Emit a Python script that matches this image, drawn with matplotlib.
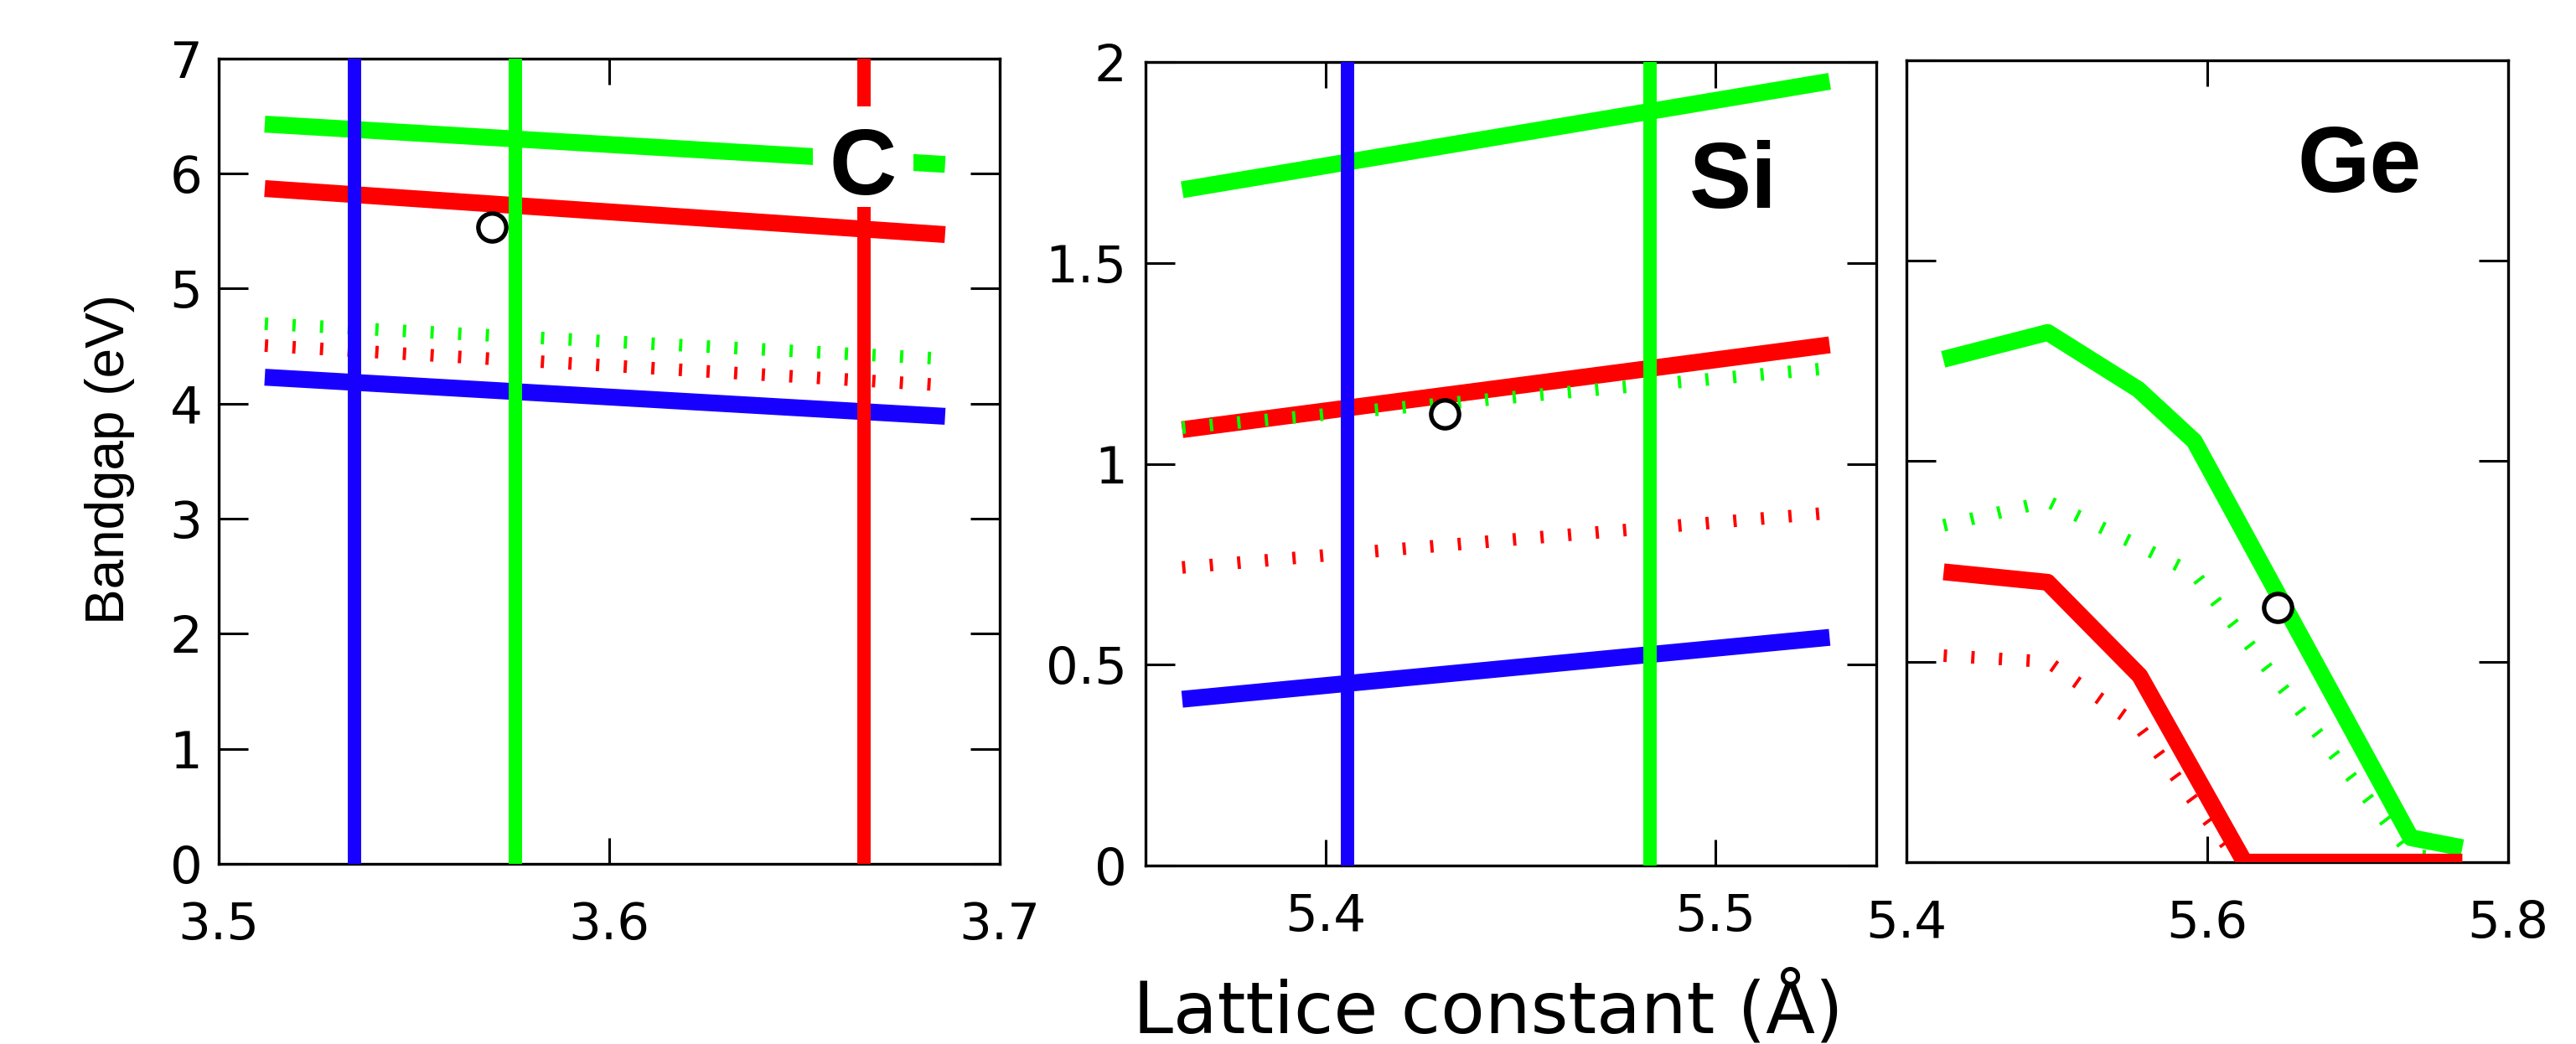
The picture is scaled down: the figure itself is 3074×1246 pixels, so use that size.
import matplotlib
matplotlib.use("Agg")
import matplotlib.pyplot as plt

plt.rcParams['font.family'] = ['DejaVu Sans']

# ----------------------------
# colours
# ----------------------------
GREEN = "#00ff00"
RED = "#ff0000"
BLUE = "#1800ff"

# ----------------------------
# C panel
# ----------------------------
c_x = [3.5118, 3.686]
c_green = [6.43, 6.08]
c_red = [5.87, 5.47]
c_blue = [4.23, 3.89]
c_green_dot = [4.695, 4.39]
c_red_dot = [4.505, 4.16]
c_vline_blue = 3.5348
c_vline_green = 3.5759
c_vline_red = 3.6653
c_circle = (3.5699, 5.536)
c_label_pos = (3.6649, 5.822)
c_backdrop_pos = (3.6650, 6.144)

# ----------------------------
# Si panel
# ----------------------------
si_x = [5.3632, 5.5294]
si_green = [1.682, 1.952]
si_red = [1.085, 1.296]
si_blue = [0.414, 0.568]
si_green_dot = [1.09, 1.238]
si_red_dot = [0.742, 0.878]
si_vline_blue = 5.4056
si_vline_green = 5.4832
si_circle = (5.4305, 1.125)
si_label_pos = (5.5046, 1.637)

# ----------------------------
# Ge panel
# ----------------------------
ge_green_x = [5.4244, 5.4939, 5.5541, 5.5913, 5.7352, 5.7695]
ge_green = [1.254, 1.321, 1.179, 1.050, 0.061, 0.036]
ge_red_x = [5.4247, 5.4938, 5.555, 5.6247, 5.7695]
ge_red = [0.724, 0.698, 0.465, 0.0, 0.0]
ge_green_dot_x = [5.4247, 5.4938, 5.5541, 5.5913, 5.7352, 5.7695]
ge_green_dot = [0.84, 0.90, 0.79, 0.72, 0.02, 0.0]
ge_red_dot_x = [5.4247, 5.4938, 5.5541, 5.5913, 5.621, 5.7695]
ge_red_dot = [0.515, 0.50, 0.34, 0.15, 0.0, 0.0]
ge_circle = (5.647, 0.635)
ge_label_pos = (5.7008, 1.672)

SOLID_LW = 14.5
VLINE_LW = 11.5
DOT_LW = 10.8
DOT_STYLE = (0, (0.26, 1.94))
TICK_FS = 44
LABEL_FONT = ['Liberation Sans', 'DejaVu Sans']


def style_axes(ax, xpad, ypad):
    ax.tick_params(direction="in", length=25, width=2.2, top=True, right=True,
                   labelsize=TICK_FS, pad=ypad, axis="y")
    ax.tick_params(direction="in", length=22, width=2.2, top=True, right=True,
                   labelsize=TICK_FS, pad=xpad, axis="x")
    for sp in ax.spines.values():
        sp.set_linewidth(2.4)


def draw_circle(ax, pt):
    ax.plot([pt[0]], [pt[1]], marker="o", ms=24, mfc="white", mec="black",
            mew=3.8, zorder=6)


def element_label(ax, pos, name):
    ax.text(pos[0], pos[1], name, fontsize=80, fontweight="bold",
            family=LABEL_FONT, ha="center", va="baseline", zorder=8)


fig = plt.figure(figsize=(30.74, 12.46), dpi=100)

# C
ax1 = fig.add_axes([0.0849, 0.1726, 0.3032, 0.7713])
ax1.plot(c_x, c_green_dot, color=GREEN, lw=DOT_LW, ls=DOT_STYLE)
ax1.plot(c_x, c_red_dot, color=RED, lw=DOT_LW, ls=DOT_STYLE)
ax1.plot(c_x, c_green, color=GREEN, lw=SOLID_LW, solid_capstyle="butt")
ax1.plot(c_x, c_red, color=RED, lw=SOLID_LW, solid_capstyle="butt")
ax1.plot(c_x, c_blue, color=BLUE, lw=SOLID_LW, solid_capstyle="butt")
ax1.axvline(c_vline_blue, color=BLUE, lw=VLINE_LW, zorder=3)
ax1.axvline(c_vline_green, color=GREEN, lw=VLINE_LW, zorder=3)
ax1.axvline(c_vline_red, color=RED, lw=VLINE_LW, zorder=3)
draw_circle(ax1, c_circle)
# white patch behind the "C" label
ax1.plot([c_backdrop_pos[0]], [c_backdrop_pos[1]], marker="s", ms=86,
         mfc="white", mew=0, zorder=7)
element_label(ax1, c_label_pos, "C")
ax1.set_xlim(3.5, 3.7)
ax1.set_ylim(0, 7)
ax1.set_xticks([3.5, 3.6, 3.7])
ax1.set_xticklabels(["3.5", "3.6", "3.7"])
ax1.set_yticks(range(8))
style_axes(ax1, xpad=32, ypad=14)

# Si
ax2 = fig.add_axes([0.4447, 0.1709, 0.2837, 0.7697])
ax2.plot(si_x, si_green_dot, color=GREEN, lw=DOT_LW, ls=DOT_STYLE, zorder=2.2)
ax2.plot(si_x, si_red_dot, color=RED, lw=DOT_LW, ls=DOT_STYLE)
ax2.plot(si_x, si_green, color=GREEN, lw=SOLID_LW, solid_capstyle="butt")
ax2.plot(si_x, si_red, color=RED, lw=SOLID_LW, solid_capstyle="butt")
ax2.plot(si_x, si_blue, color=BLUE, lw=SOLID_LW, solid_capstyle="butt")
ax2.axvline(si_vline_blue, color=BLUE, lw=VLINE_LW, zorder=3)
ax2.axvline(si_vline_green, color=GREEN, lw=VLINE_LW, zorder=3)
draw_circle(ax2, si_circle)
element_label(ax2, si_label_pos, "Si")
ax2.set_xlim(5.3538, 5.5414)
ax2.set_ylim(0, 2)
ax2.set_xticks([5.4, 5.5])
ax2.set_xticklabels(["5.4", "5.5"])
ax2.set_yticks([0, 0.5, 1, 1.5, 2])
ax2.set_yticklabels(["0", "0.5", "1", "1.5", "2"])
style_axes(ax2, xpad=23, ypad=16)

# Ge
ax3 = fig.add_axes([0.7401, 0.1742, 0.2336, 0.7681])
ax3.plot(ge_green_dot_x, ge_green_dot, color=GREEN, lw=DOT_LW, ls=DOT_STYLE)
ax3.plot(ge_red_dot_x, ge_red_dot, color=RED, lw=DOT_LW, ls=DOT_STYLE)
ax3.plot(ge_green_x, ge_green, color=GREEN, lw=SOLID_LW, solid_capstyle="butt",
         zorder=3)
ax3.plot(ge_red_x, ge_red, color=RED, lw=SOLID_LW, solid_capstyle="butt",
         zorder=3.1)
draw_circle(ax3, ge_circle)
element_label(ax3, ge_label_pos, "Ge")
ax3.set_xlim(5.4, 5.8)
ax3.set_ylim(0, 2)
ax3.set_xticks([5.4, 5.6, 5.8])
ax3.set_xticklabels(["5.4", "5.6", "5.8"])
ax3.set_yticks([0, 0.5, 1, 1.5, 2])
style_axes(ax3, xpad=32, ypad=16)
ax3.tick_params(axis="y", labelleft=False)

fig.text(131 / 3074, 0.560, "Bandgap (eV)", rotation=90, fontsize=46,
         family=LABEL_FONT, ha="center", va="center")
fig.text(0.5778, 0.0112, "Lattice constant (\u00c5)", fontsize=62,
         ha="center", va="baseline")

fig.savefig("out.png", dpi=100)
